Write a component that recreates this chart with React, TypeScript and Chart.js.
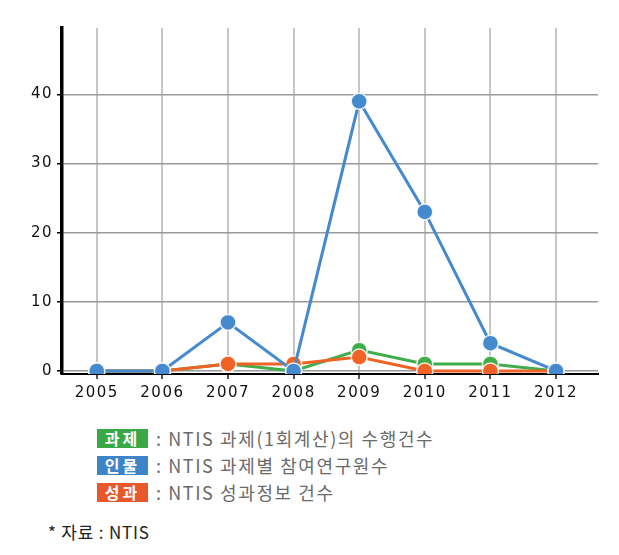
import React, { useEffect, useRef } from "react";
import { Chart, registerables } from "chart.js";

Chart.register(...registerables);

const years = [2005, 2006, 2007, 2008, 2009, 2010, 2011, 2012];
const gwajae = [0, 0, 1, 0, 3, 1, 1, 0];
const inmul = [0, 0, 7, 0, 39, 23, 4, 0];
const seonggwa = [0, 0, 1, 1, 2, 0, 0, 0];
const yTicks = [0, 10, 20, 30, 40];

const GREEN = "#3fae4a";
const BLUE = "#4589cf";
const ORANGE = "#ef6426";

const legendItems = [
  { tag: "과제", color: "#3aa845", text: ": NTIS 과제(1회계산)의 수행건수" },
  { tag: "인물", color: "#3d84c8", text: ": NTIS 과제별 참여연구원수" },
  { tag: "성과", color: "#e9582a", text: ": NTIS 성과정보 건수" },
];

function toPoints(vals: number[]) {
  return years.map((y, i) => ({ x: y, y: vals[i] }));
}

function ds(label: string, vals: number[], color: string) {
  return {
    label,
    data: toPoints(vals),
    borderColor: color,
    backgroundColor: color,
    borderWidth: 3,
    pointRadius: 8,
    pointBackgroundColor: color,
    pointBorderColor: "rgba(255,255,255,0.85)",
    pointBorderWidth: 1.5,
    tension: 0,
  };
}

const spacingPlugin = {
  id: "spacing",
  beforeDraw(chart: any) {
    chart.ctx.letterSpacing = "1.5px";
  },
  beforeLayout(chart: any) {
    chart.ctx.letterSpacing = "1.5px";
  },
};

export default function App() {
  const ref = useRef<HTMLCanvasElement | null>(null);
  useEffect(() => {
    if (!ref.current) return;
    const chart = new Chart(ref.current, {
      type: "line",
      data: {
        datasets: [
          ds("인물", inmul, BLUE),
          ds("성과", seonggwa, ORANGE),
          ds("과제", gwajae, GREEN),
        ],
      },
      plugins: [spacingPlugin],
      options: {
        animation: false,
        responsive: false,
        maintainAspectRatio: false,
        layout: { padding: { top: 20, right: 13, left: 0, bottom: 0 } },
        plugins: { legend: { display: false }, tooltip: { enabled: false } },
        scales: {
          x: {
            type: "linear",
            min: 2004.47,
            max: 2012.64,
            afterBuildTicks: (axis: any) => {
              axis.ticks = years.map((v) => ({ value: v }));
            },
            afterFit: (scale: any) => {
              scale.height = 34;
            },
            ticks: {
              callback: (v: any) => String(v),
              color: "#111",
              font: { family: "DejaVu Sans", size: 15 },
              padding: 5,
              maxRotation: 0,
              autoSkip: false,
            },
            grid: {
              color: "#c6c6c6",
              lineWidth: 2,
              tickColor: "#555",
              tickLength: 5,
            },
            border: { color: "#000", width: 2 },
          },
          y: {
            min: -0.45,
            max: 49.6,
            afterBuildTicks: (axis: any) => {
              axis.ticks = yTicks.map((v) => ({ value: v }));
            },
            afterFit: (scale: any) => {
              scale.width = 54;
            },
            ticks: {
              color: "#111",
              font: { family: "DejaVu Sans", size: 15 },
              padding: 4,
            },
            grid: {
              color: "#999",
              lineWidth: 1.5,
              tickColor: "#000",
              tickLength: 5,
            },
            border: { color: "#000", width: 3.5 },
          },
        },
      },
    });
    return () => chart.destroy();
  }, []);

  return (
    <div style={{ position: "relative", width: 603, height: 539 }}>
      <canvas ref={ref} width={603} height={400} style={{ display: "block" }} />
      {legendItems.map((it, i) => (
        <div
          key={it.tag}
          style={{
            position: "absolute",
            left: 89,
            top: 421 + i * 27,
            height: 19,
            display: "flex",
            alignItems: "center",
            whiteSpace: "nowrap",
          }}
        >
          <div
            style={{
              width: 51,
              height: 19,
              background: it.color,
              color: "#fff",
              fontFamily: "'Noto Sans CJK KR', sans-serif",
              fontWeight: 700,
              fontSize: 16,
              lineHeight: "19px",
              textAlign: "center",
              letterSpacing: 3,
            }}
          >
            {it.tag}
          </div>
          <div
            style={{
              marginLeft: 8,
              color: "#6a6a6a",
              fontFamily: "'Noto Sans CJK KR', sans-serif",
              fontSize: 18,
              lineHeight: "19px",
              letterSpacing: 1.6,
            }}
          >
            {it.text}
          </div>
        </div>
      ))}
      <div
        style={{
          position: "absolute",
          left: 40,
          top: 514,
          color: "#222",
          fontFamily: "'Noto Sans CJK KR', sans-serif",
          fontSize: 17,
          lineHeight: "20px",
          letterSpacing: 0.8,
          whiteSpace: "nowrap",
        }}
      >
        * 자료 : NTIS
      </div>
    </div>
  );
}
